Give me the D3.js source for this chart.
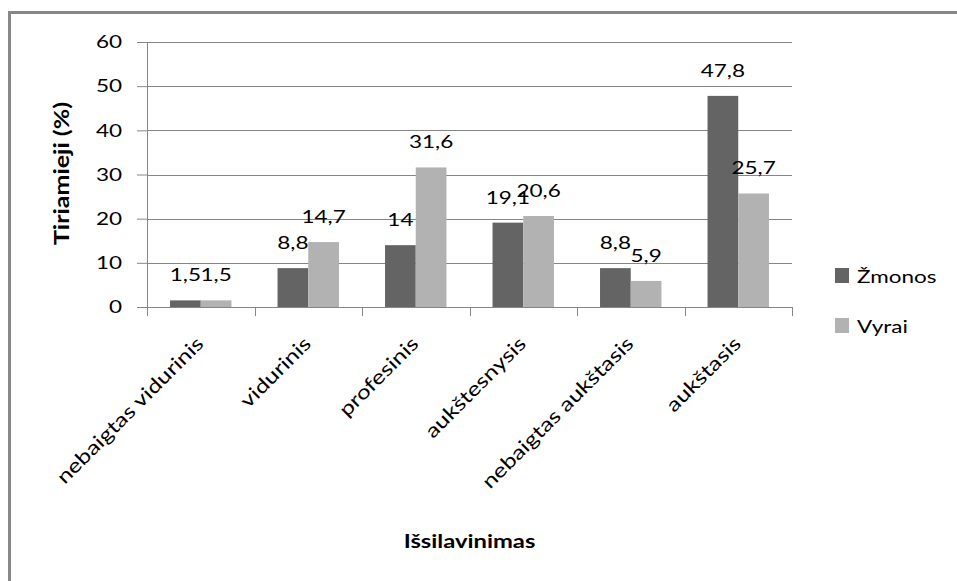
<!DOCTYPE html>
<html>
<head>
<meta charset="utf-8">
<script src="https://cdn.jsdelivr.net/npm/d3@7"></script>
<style>
  html, body { margin: 0; padding: 0; background: #fff; }
  svg { display: block; }
  text { font-family: Lato, "Open Sans", sans-serif; fill: #000; }
</style>
</head>
<body>
<svg id="chart" width="957" height="581"></svg>
<script>
// Education level of respondents, by sex (%)
const categories = ["nebaigtas vidurinis", "vidurinis", "profesinis", "aukštesnysis", "nebaigtas aukštasis", "aukštasis"];
const seriesNames = ["Žmonos", "Vyrai"];
const zmonos = [1.5, 8.8, 14, 19.1, 8.8, 47.8];
const vyrai = [1.5, 14.7, 31.6, 20.6, 5.9, 25.7];
const yTicks = [0, 10, 20, 30, 40, 50, 60];
const colors = ["#646464", "#b2b2b2"];

const values = [zmonos, vyrai];
const SX = 1.25; // horizontal widening of the lettering

const svg = d3.select("#chart");
const W = 957, H = 581;
const plot = { left: 147, right: 792, top: 42, bottom: 307 };
const axisColor = "#868686";

// outer frame (top and left edges)
svg.append("path")
  .attr("d", `M9.5,${H} V12.5 H${W}`)
  .attr("fill", "none")
  .attr("stroke", "#878787")
  .attr("stroke-width", 3);

const x = d3.scaleBand().domain(categories).range([plot.left, plot.right]).padding(0);
const xs = d3.scaleBand().domain(seriesNames).range([0, x.bandwidth()]).paddingInner(0).paddingOuter(0.75);
const y = d3.scaleLinear().domain([0, 60]).range([plot.bottom, plot.top]);

const fmt = v => String(v).replace(".", ",");

// gridlines and y ticks
const yAxis = svg.append("g")
  .attr("transform", `translate(${plot.left},0)`)
  .call(d3.axisLeft(y).tickValues(yTicks).tickSize(10).tickPadding(15).tickFormat(d => d));
yAxis.select(".domain").remove();
yAxis.selectAll(".tick line").attr("stroke", axisColor);
yAxis.selectAll(".tick text")
  .attr("font-size", 18)
  .attr("fill", "#000")
  .attr("font-family", "Lato")
  .each(function () {
    const t = d3.select(this);
    const xx = +t.attr("x");
    t.attr("x", null).attr("transform", `translate(${xx},0) scale(${SX},1)`);
  });

svg.append("g").selectAll("line")
  .data(yTicks)
  .join("line")
  .attr("x1", plot.left).attr("x2", plot.right)
  .attr("y1", d => Math.round(y(d)) + 0.5).attr("y2", d => Math.round(y(d)) + 0.5)
  .attr("stroke", axisColor);

// y axis line
svg.append("line")
  .attr("x1", plot.left + 0.5).attr("x2", plot.left + 0.5)
  .attr("y1", plot.top).attr("y2", plot.bottom)
  .attr("stroke", axisColor);

// x axis category boundary ticks
const bounds = categories.map(c => x(c)).concat([plot.right]);
svg.append("g").selectAll("line")
  .data(bounds)
  .join("line")
  .attr("x1", d => Math.round(d) + 0.5).attr("x2", d => Math.round(d) + 0.5)
  .attr("y1", plot.bottom).attr("y2", plot.bottom + 9)
  .attr("stroke", axisColor);

// bars
const groups = svg.append("g").selectAll("g")
  .data(categories)
  .join("g")
  .attr("transform", c => `translate(${x(c)},0)`);

groups.each(function (c, i) {
  const g = d3.select(this);
  seriesNames.forEach((s, k) => {
    const v = values[k][i];
    g.append("rect")
      .attr("x", xs(s))
      .attr("y", y(v))
      .attr("width", xs.bandwidth())
      .attr("height", y(0) - y(v))
      .attr("fill", colors[k]);
  });
});

// value labels above bars
groups.each(function (c, i) {
  const g = d3.select(this);
  seriesNames.forEach((s, k) => {
    const v = values[k][i];
    g.append("text")
      .attr("transform", `translate(${xs(s) + xs.bandwidth() / 2},${y(v) - 19}) scale(${SX},1)`)
      .attr("text-anchor", "middle")
      .attr("font-size", 18)
      .text(fmt(v));
  });
});

// category labels, rotated
svg.append("g").selectAll("text")
  .data(categories)
  .join("text")
  .attr("transform", c => `translate(${x(c) + x.bandwidth() / 2 + 4},${plot.bottom + 38}) rotate(-45) scale(${SX},1)`)
  .attr("text-anchor", "end")
  .attr("font-size", 19.5)
  .text(c => c);

// axis titles
svg.append("text")
  .attr("transform", `translate(${(plot.left + plot.right) / 2},548) scale(${SX},1)`)
  .attr("text-anchor", "middle")
  .attr("font-size", 19)
  .attr("font-weight", "bold")
  .text("Išsilavinimas");

svg.append("text")
  .attr("transform", `translate(69,${(plot.top + plot.bottom) / 2 - 1}) rotate(-90) scale(${SX},1)`)
  .attr("text-anchor", "middle")
  .attr("font-size", 20)
  .attr("font-weight", "bold")
  .text("Tiriamieji (%)");

// legend
const legend = svg.append("g").attr("transform", "translate(835,268)");
seriesNames.forEach((s, k) => {
  const row = legend.append("g").attr("transform", `translate(0,${k * 50})`);
  row.append("rect").attr("width", 14).attr("height", 15).attr("fill", colors[k]);
  row.append("text")
    .attr("transform", `translate(22,15) scale(${SX},1)`)
    .attr("font-size", 18)
    .text(s);
});
</script>
</body>
</html>
